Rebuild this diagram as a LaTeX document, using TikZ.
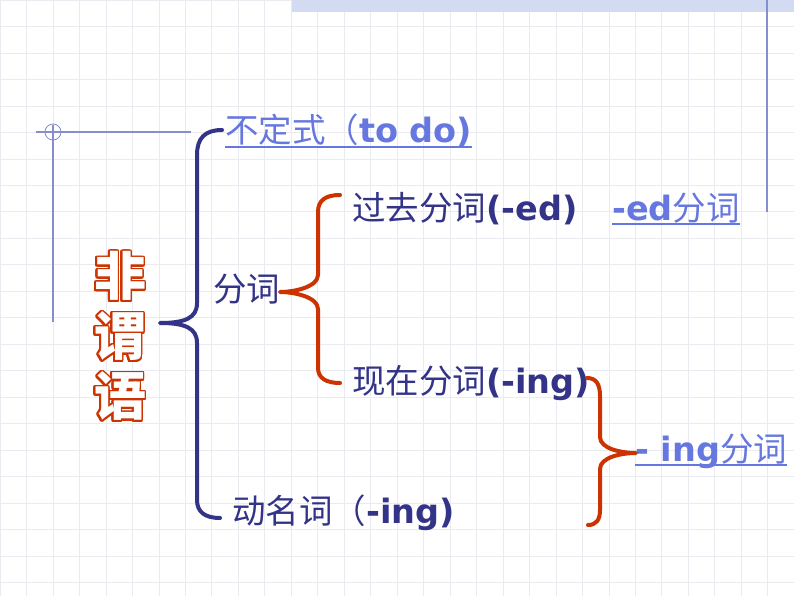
\documentclass[tikz,border=0pt]{standalone}
\usepackage{fontspec}
\usepackage[copies]{contour}
\setmainfont{DejaVu Sans}
\newfontfamily\cjk{Noto Sans CJK SC}
\newfontfamily\lat{DejaVu Sans}
\usetikzlibrary{calc}
\definecolor{navy}{RGB}{51,51,136}
\definecolor{rust}{RGB}{204,51,0}
\definecolor{linkblue}{RGB}{102,120,224}
\definecolor{gridgray}{RGB}{233,235,241}
\definecolor{framelilac}{RGB}{135,142,205}
\definecolor{bandblue}{RGB}{210,219,242}
\newcommand\zhtxt[1]{{\cjk #1}}
\newcommand\entxt[1]{{\lat\bfseries #1}}
\newcommand\hollow[1]{\contour{rust}{\textcolor{white}{#1}}}
\contourlength{1.5pt}
\contournumber{32}
\tikzset{
    grid line/.style  = {draw=gridgray, line width=0.6pt},
    frame line/.style = {draw=framelilac, line width=1.2pt},
    brace/.style      = {line width=4pt, line cap=round, line join=round},
    blue brace/.style = {brace, draw=navy},
    red brace/.style  = {brace, draw=rust},
    item/.style       = {anchor=base west, inner sep=0pt, text=navy,
                         font=\fontsize{33.5}{38}\selectfont},
    link/.style       = {item, text=linkblue},
    underline/.style  = {draw=linkblue, line width=1.5pt},
    title/.style      = {align=center, inner sep=0pt,
                         font=\cjk\bfseries\fontsize{52}{60}\selectfont}
}

\begin{document}
\begin{tikzpicture}[x=1pt, y=-1pt]
\useasboundingbox (0,0) rectangle (794,596);

% ================= Background grid =================
\fill[white] (0,0) rectangle (794,596);
\foreach \k in {0,...,30}
    \draw[grid line] (\k*26.47,0) -- (\k*26.47,596);
\foreach \k in {0,...,22}
    \draw[grid line] (0,\k*26.47) -- (794,\k*26.47);

% ================= Slide frame =================
\fill[bandblue] (292,0) rectangle (794,12);
\draw[frame line] (767,0) -- (767,212);
\draw[frame line] (36,132) -- (191,132);
\draw[frame line] (53,125) -- (53,322);
\draw[frame line, line width=0.8pt] (53,132) circle[radius=8pt];

% ================= Title =================
\node[title] (nonfinite) at (120,337) {\hollow{非}\\\hollow{谓}\\\hollow{语}};

% ================= Items =================
\node[link] (infinitive) at (225,143) {\zhtxt{不定式（}\entxt{to do)}};
\node[item] (participle) at (213,301) {\zhtxt{分词}};
\node[item] (past) at (352,220) {\zhtxt{过去分词}\entxt{(-ed)}};
\node[link] (ed form) at (612,220) {\entxt{-ed}\zhtxt{分词}};
\node[item] (present) at (352,393) {\zhtxt{现在分词}\entxt{(-ing)}};
\node[link] (ing form) at (635,461) {\entxt{- ing}\zhtxt{分词}};
\node[item] (gerund) at (232,523) {\zhtxt{动名词（}\entxt{-ing)}};

\foreach \n in {infinitive, ed form, ing form}
    \draw[underline] ([yshift=-4pt]\n.base west) -- ([yshift=-4pt]\n.base east);

% ================= Braces =================
\coordinate (main top) at (222,130);
\coordinate (main tip) at (160,323);
\coordinate (main bottom) at (220,518);
\draw[blue brace] (main top) .. controls (205,130) and (197,138) .. (197,155)
    -- (197,303) .. controls (197,318) and (185,323) .. (main tip)
    .. controls (185,323) and (197,328) .. (197,343)
    -- (197,500) .. controls (197,512) and (205,518) .. (main bottom);

\coordinate (part top) at (340,195);
\coordinate (part tip) at (280,292);
\coordinate (part bottom) at (340,383);
\draw[red brace] (part top) .. controls (326,195) and (318,200) .. (318,212)
    -- (318,275) .. controls (318,287) and (294,292) .. (part tip)
    .. controls (294,292) and (318,297) .. (318,309)
    -- (318,368) .. controls (318,378) and (326,383) .. (part bottom);

\coordinate (ing top) at (587,378);
\coordinate (ing tip) at (636,453);
\coordinate (ing bottom) at (588,525);
\draw[red brace] (ing top) .. controls (596,378) and (600,384) .. (600,396)
    -- (600,437) .. controls (600,449) and (622,453) .. (ing tip)
    .. controls (622,453) and (600,457) .. (600,469)
    -- (600,510) .. controls (600,520) and (596,525) .. (ing bottom);

\end{tikzpicture}
\end{document}
